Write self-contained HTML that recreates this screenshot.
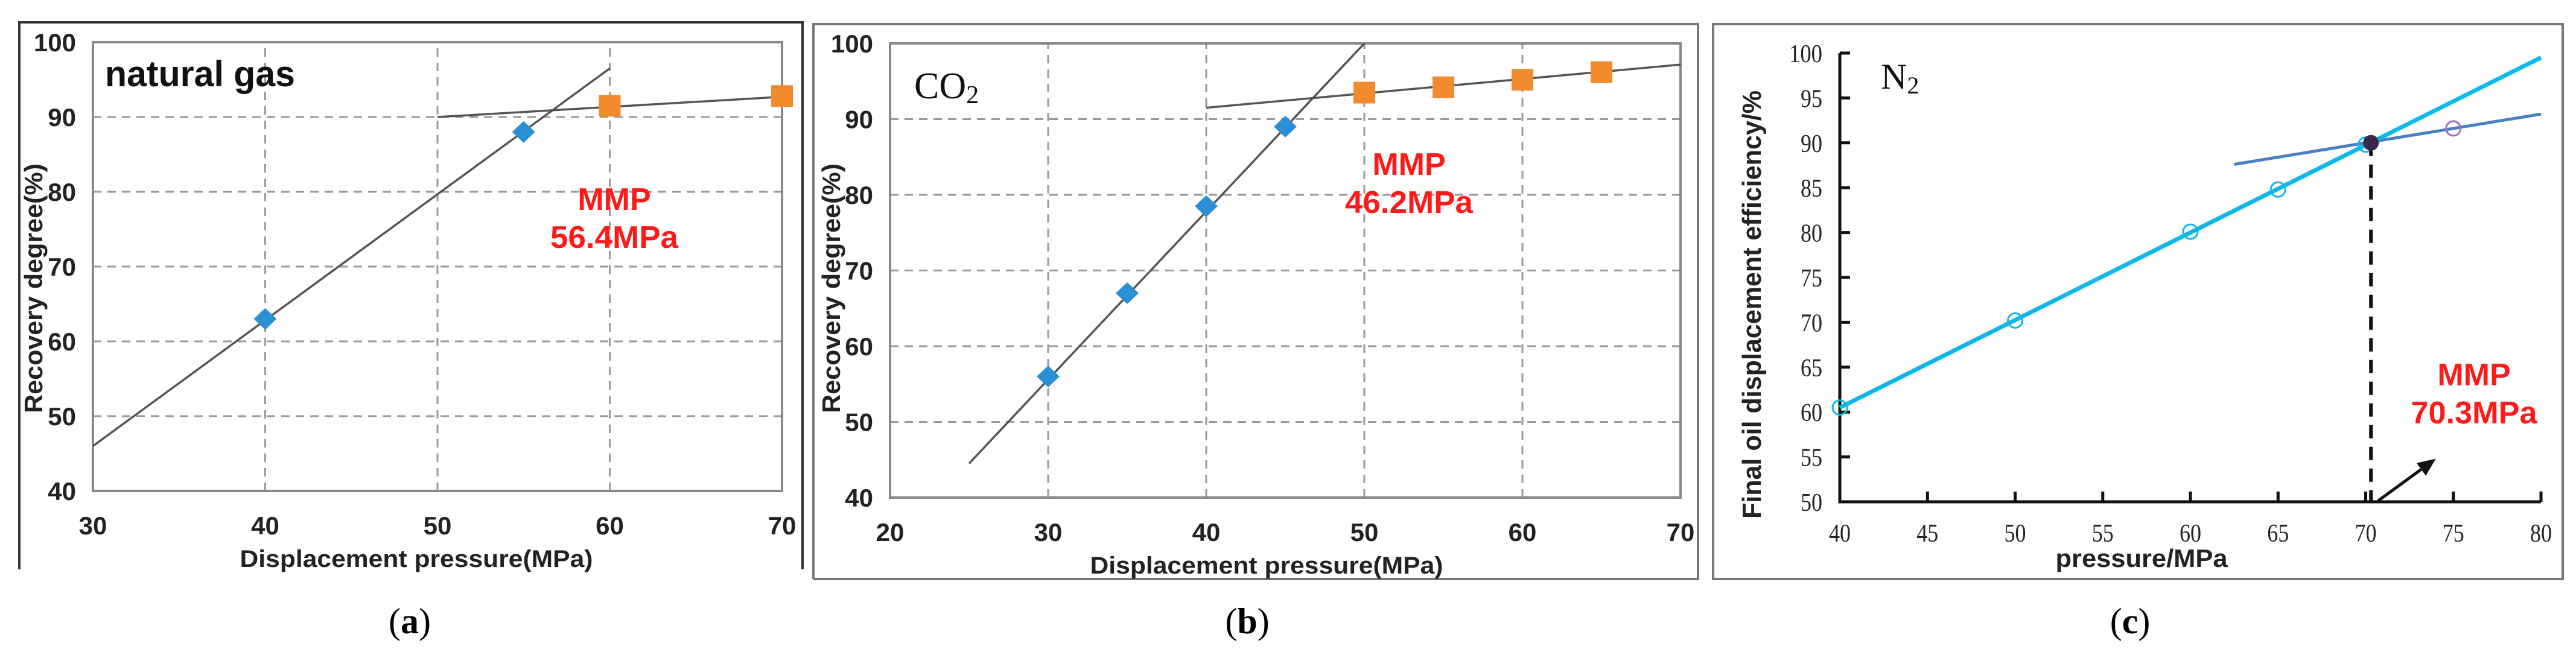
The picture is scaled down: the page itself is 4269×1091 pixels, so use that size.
<!DOCTYPE html>
<html><head><meta charset="utf-8">
<style>
html,body{margin:0;padding:0;background:#fff;}
svg{display:block;}
</style></head>
<body>
<svg id="fig" xmlns="http://www.w3.org/2000/svg" width="4269" height="1091" viewBox="0 0 4269 1091">
  <rect x="0" y="0" width="4269" height="1091" fill="#fff"/>
  <path d="M32 944 L32 37 L1330 37 L1330 944" fill="none" stroke="#333" stroke-width="4"/>
  <path d="M1348 960 L1348 40 L2814 40 L2814 960 L1348 960" fill="none" stroke="#777" stroke-width="4"/>
  <path d="M2839 40 L4247 40 L4247 960 L2839 960 Z" fill="none" stroke="#777" stroke-width="4"/>
  <g id="ga"></g>
  <g id="gb"></g>
  <g id="gc"></g>
  <text x="679" y="1050" font-family="Liberation Serif, serif" font-size="60" text-anchor="middle">(<tspan font-weight="bold">a</tspan>)</text>
  <text x="2067" y="1050" font-family="Liberation Serif, serif" font-size="60" text-anchor="middle">(<tspan font-weight="bold">b</tspan>)</text>
  <text x="3530" y="1050" font-family="Liberation Serif, serif" font-size="60" text-anchor="middle">(<tspan font-weight="bold">c</tspan>)</text>
</svg>
<script>
// ---------- Chart (a): natural gas ----------
const aXTicks = [30, 40, 50, 60, 70];
const aYTicks = [40, 50, 60, 70, 80, 90, 100];
const aDiamondX = [40, 55];
const aDiamondY = [63, 88];
const aSquareX = [60, 70];
const aSquareY = [91.5, 92.8];
const aLine1X = [30, 60];
const aLine1Y = [46, 96.5];
const aLine2X = [50, 70];
const aLine2Y = [90, 92.7];

// ---------- Chart (b): CO2 ----------
const bXTicks = [20, 30, 40, 50, 60, 70];
const bYTicks = [40, 50, 60, 70, 80, 90, 100];
const bDiamondX = [30, 35, 40, 45];
const bDiamondY = [56, 67, 78.5, 89];
const bSquareX = [50, 55, 60, 65];
const bSquareY = [93.5, 94.2, 95.2, 96.2];
const bLine1X = [25, 50];
const bLine1Y = [44.5, 100];
const bLine2X = [40, 70];
const bLine2Y = [91.5, 97.2];

// ---------- Chart (c): N2 ----------
const cXTicks = [40, 45, 50, 55, 60, 65, 70, 75, 80];
const cYTicks = [50, 55, 60, 65, 70, 75, 80, 85, 90, 95, 100];
const cPointX = [40, 50, 60, 65, 70];
const cPointY = [60.5, 70.2, 80.1, 84.8, 89.8];
const cFitX = [40, 80];
const cFitY = [60.5, 99.5];
const cHighX = [62.5, 80];
const cHighY = [87.6, 93.2];
const cHighPointX = [75];
const cHighPointY = [91.6];
const cMMP = [70.3, 90];
const cArrowX = [70.7, 74];
const cArrowY = [50.1, 54.8];

const NS = 'http://www.w3.org/2000/svg';
function mk(parent, tag, attrs, text) {
  const e = document.createElementNS(NS, tag);
  for (const k in attrs) e.setAttribute(k, attrs[k]);
  if (text !== undefined) e.textContent = text;
  parent.appendChild(e);
  return e;
}
function scale(d0, d1, r0, r1) { return v => r0 + (v - d0) / (d1 - d0) * (r1 - r0); }

const SANS = 'Liberation Sans, sans-serif';
const SERIF = 'Liberation Serif, serif';

function gridChart(g, o) {
  const X = scale(o.xmin, o.xmax, o.left, o.right);
  const Y = scale(o.ymin, o.ymax, o.bottom, o.top);
  o.xt.forEach(v => {
    if (v === o.xmin || v === o.xmax) return;
    const l = mk(g, 'line', {x1: X(v), x2: X(v), y1: Y(o.ymin), y2: Y(o.ymax), stroke: '#999', 'stroke-width': 3, 'stroke-dasharray': '14 10'});
    
    
  });
  o.yt.forEach(v => {
    if (v === o.ymin || v === o.ymax) return;
    const l = mk(g, 'line', {x1: X(o.xmin), x2: X(o.xmax), y1: Y(v), y2: Y(v), stroke: '#999', 'stroke-width': 3, 'stroke-dasharray': '14 10'});
    
    
  });
  const fr = mk(g, 'rect', {x: X(o.xmin), y: Y(o.ymax), width: X(o.xmax) - X(o.xmin), height: Y(o.ymin) - Y(o.ymax), fill: 'none', stroke: '#888', 'stroke-width': 4});
  
  
  o.yt.forEach(v => {
    const t = mk(g, 'text', {x: o.left - 28, y: Y(v) + 15, 'font-family': SANS, 'font-weight': 'bold', 'font-size': 42, 'text-anchor': 'end', fill: '#222'}, String(v));
    
    
  });
  o.xt.forEach(v => {
    const t = mk(g, 'text', {x: X(v), y: o.bottom + 72, 'font-family': SANS, 'font-weight': 'bold', 'font-size': 42, 'text-anchor': 'middle', fill: '#222'}, String(v));
    
    
  });
  const xt = mk(g, 'text', {x: o.xtitleX, y: o.bottom + 126, 'font-family': SANS, 'font-weight': 'bold', 'font-size': 40, 'text-anchor': 'middle', fill: '#222', textLength: 585, lengthAdjust: 'spacingAndGlyphs'}, 'Displacement pressure(MPa)');
  
  
  const yt = mk(g, 'text', {x: 0, y: 0, 'font-family': SANS, 'font-weight': 'bold', 'font-size': 42, 'text-anchor': 'middle', fill: '#222', textLength: 414, lengthAdjust: 'spacingAndGlyphs', transform: `translate(${o.ytitleX},478) rotate(-90)`}, 'Recovery degree(%)');
  
  
  [[o.l1x, o.l1y], [o.l2x, o.l2y]].forEach(([lx, ly], i) => {
    const l = mk(g, 'line', {x1: X(lx[0]), y1: Y(ly[0]), x2: X(lx[1]), y2: Y(ly[1]), stroke: '#555', 'stroke-width': 3.5});
    
    
  });
  o.dx.forEach((v, i) => {
    const cx = X(v), cy = Y(o.dy[i]), sx = 19, sy = 18;
    const p = mk(g, 'polygon', {points: `${cx},${cy - sy} ${cx + sx},${cy} ${cx},${cy + sy} ${cx - sx},${cy}`, fill: '#2a8fd4'});
    
    
  });
  o.sx.forEach((v, i) => {
    const cx = X(v), cy = Y(o.sy[i]), s = 18;
    const p = mk(g, 'rect', {x: cx - s, y: cy - s, width: 2 * s, height: 2 * s, fill: '#f28a2e'});
    
    
  });
  const m1 = mk(g, 'text', {x: o.mmpX, y: o.mmpY, 'font-family': SANS, 'font-weight': 'bold', 'font-size': 52, 'text-anchor': 'middle', fill: '#ff1a1a'}, 'MMP');
  
  
  const m2 = mk(g, 'text', {x: o.mmpX, y: o.mmpY + 63, 'font-family': SANS, 'font-weight': 'bold', 'font-size': 52, 'text-anchor': 'middle', fill: '#ff1a1a', textLength: 212, lengthAdjust: 'spacingAndGlyphs'}, o.mmpText);
  
  
}

const ga = document.getElementById('ga');
gridChart(ga, {xmin: 30, xmax: 70, ymin: 40, ymax: 100, left: 154, right: 1296, top: 70, bottom: 814,
  xt: aXTicks, yt: aYTicks, dx: aDiamondX, dy: aDiamondY, sx: aSquareX, sy: aSquareY,
  l1x: aLine1X, l1y: aLine1Y, l2x: aLine2X, l2y: aLine2Y, mmpX: 1018, mmpY: 348, mmpText: '56.4MPa', xtitleX: 690, ytitleX: 70});
const na = mk(ga, 'text', {x: 174, y: 143, 'font-family': SANS, 'font-weight': 'bold', 'font-size': 60, fill: '#111', textLength: 315, lengthAdjust: 'spacingAndGlyphs'}, 'natural gas');



const gb = document.getElementById('gb');
gridChart(gb, {xmin: 20, xmax: 70, ymin: 40, ymax: 100, left: 1475, right: 2785, top: 72, bottom: 825,
  xt: bXTicks, yt: bYTicks, dx: bDiamondX, dy: bDiamondY, sx: bSquareX, sy: bSquareY,
  l1x: bLine1X, l1y: bLine1Y, l2x: bLine2X, l2y: bLine2Y, mmpX: 2335, mmpY: 290, mmpText: '46.2MPa', xtitleX: 2099, ytitleX: 1392});
const nb = mk(gb, 'text', {x: 1515, y: 163, 'font-family': SERIF, 'font-size': 62, fill: '#111'});


nb.innerHTML = 'CO<tspan font-size="42" dy="8">2</tspan>';

const gc = document.getElementById('gc');
const CX = scale(40, 80, 3049, 4211);
const CY = scale(50, 100, 832, 88);
(function () {
  const ax = mk(gc, 'path', {d: `M${CX(40)} ${CY(100)} L${CX(40)} ${CY(50)} L${CX(80)} ${CY(50)}`, fill: 'none', stroke: '#111', 'stroke-width': 5});
  
  
  cYTicks.forEach(v => {
    const t = mk(gc, 'line', {x1: CX(40), x2: CX(40) + 17, y1: CY(v), y2: CY(v), stroke: '#111', 'stroke-width': 5});
    
    
    const l = mk(gc, 'text', {x: 3020, y: CY(v) + 15, 'font-family': SERIF, 'font-size': 42, 'text-anchor': 'end', fill: '#222', textLength: v === 100 ? 55 : 36, lengthAdjust: 'spacingAndGlyphs'}, String(v));
    
    
  });
  cXTicks.forEach(v => {
    const t = mk(gc, 'line', {x1: CX(v), x2: CX(v), y1: CY(50), y2: CY(50) - 17, stroke: '#111', 'stroke-width': 5});
    
    
    const l = mk(gc, 'text', {x: CX(v), y: 898, 'font-family': SERIF, 'font-size': 42, 'text-anchor': 'middle', fill: '#222', textLength: 36, lengthAdjust: 'spacingAndGlyphs'}, String(v));
    
    
  });
  const xt = mk(gc, 'text', {x: 3549, y: 940, 'font-family': SANS, 'font-weight': 'bold', 'font-size': 42, 'text-anchor': 'middle', fill: '#222', textLength: 285, lengthAdjust: 'spacingAndGlyphs'}, 'pressure/MPa');
  
  
  const yt = mk(gc, 'text', {x: 0, y: 0, 'font-family': SANS, 'font-weight': 'bold', 'font-size': 44, 'text-anchor': 'middle', fill: '#222', textLength: 710, lengthAdjust: 'spacingAndGlyphs', transform: 'translate(2918,505) rotate(-90)'}, 'Final oil displacement efficiency/%');
  
  
  const n2 = mk(gc, 'text', {x: 3117, y: 147, 'font-family': SERIF, 'font-size': 60, fill: '#111'});
  
  
  n2.innerHTML = 'N<tspan font-size="40" dy="8">2</tspan>';
  const hl = mk(gc, 'line', {x1: CX(cHighX[0]), y1: CY(cHighY[0]), x2: CX(cHighX[1]), y2: CY(cHighY[1]), stroke: '#4a7fc4', 'stroke-width': 5});
  
  
  const fl = mk(gc, 'line', {x1: CX(cFitX[0]), y1: CY(cFitY[0]), x2: CX(cFitX[1]), y2: CY(cFitY[1]), stroke: '#10b8e8', 'stroke-width': 7});
  
  
  cPointX.forEach((v, i) => {
    const c = mk(gc, 'circle', {cx: CX(v), cy: CY(cPointY[i]), r: 12, fill: 'none', stroke: '#10b8e8', 'stroke-width': 3});
    
    
  });
  cHighPointX.forEach((v, i) => {
    const c = mk(gc, 'circle', {cx: CX(v), cy: CY(cHighPointY[i]), r: 12, fill: 'none', stroke: '#a070c8', 'stroke-width': 3});
    
    
  });
  const dl = mk(gc, 'line', {x1: CX(cMMP[0]), x2: CX(cMMP[0]), y1: CY(cMMP[1]), y2: CY(50), stroke: '#111', 'stroke-width': 6, 'stroke-dasharray': '22 14'});
  
  
  const mp = mk(gc, 'circle', {cx: CX(cMMP[0]), cy: CY(cMMP[1]), r: 13, fill: '#3a2a4a'});
  
  
  const x1 = CX(cArrowX[0]), y1 = CY(cArrowY[0]), x2 = CX(cArrowX[1]), y2 = CY(cArrowY[1]);
  const ang = Math.atan2(y2 - y1, x2 - x1), L = 30, W = 13;
  const bx = x2 - L * Math.cos(ang), by = y2 - L * Math.sin(ang);
  const ar = mk(gc, 'line', {x1: x1, y1: y1, x2: bx, y2: by, stroke: '#111', 'stroke-width': 5});
  
  
  const ah = mk(gc, 'polygon', {points: `${x2},${y2} ${bx + W * Math.sin(ang)},${by - W * Math.cos(ang)} ${bx - W * Math.sin(ang)},${by + W * Math.cos(ang)}`, fill: '#111'});
  
  
  const m1 = mk(gc, 'text', {x: 4100, y: 639, 'font-family': SANS, 'font-weight': 'bold', 'font-size': 52, 'text-anchor': 'middle', fill: '#ff1a1a'}, 'MMP');
  
  
  const m2 = mk(gc, 'text', {x: 4100, y: 702, 'font-family': SANS, 'font-weight': 'bold', 'font-size': 52, 'text-anchor': 'middle', fill: '#ff1a1a', textLength: 209, lengthAdjust: 'spacingAndGlyphs'}, '70.3MPa');
  
  
})();
</script>
</body></html>
